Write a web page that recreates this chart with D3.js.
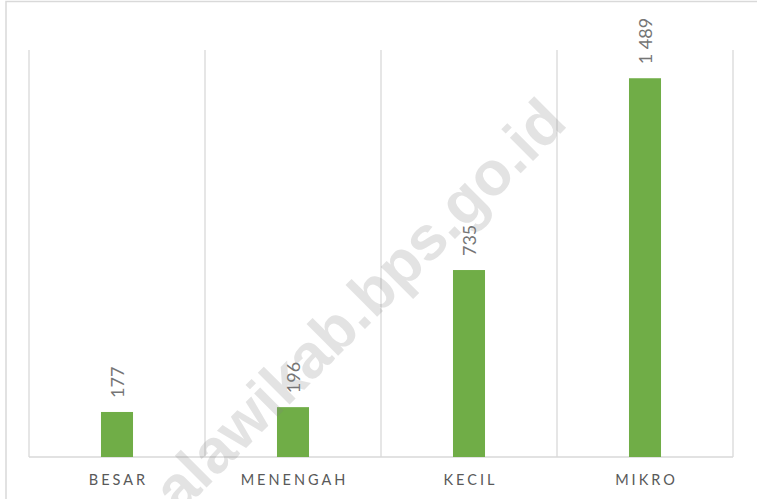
<!DOCTYPE html>
<html>
<head>
<meta charset="utf-8">
<script src="https://cdn.jsdelivr.net/npm/d3@7"></script>
<style>
  html, body { margin: 0; padding: 0; background: #fff; }
  svg { display: block; }
</style>
</head>
<body>
<div id="chart"></div>
<script>
// Data
const categories = ['BESAR', 'MENENGAH', 'KECIL', 'MIKRO'];
const values = [177, 196, 735, 1489];
const valueLabels = ['177', '196', '735', '1 489'];
const yMax = 1600;

const W = 757, H = 499;
const margin = { left: 29, right: 24, top: 50, bottom: 42 };
const barColor = '#70ad47';
const gridColor = '#d9d9d9';
const textColor = '#595959';

const svg = d3.select('#chart').append('svg')
  .attr('width', W).attr('height', H);

// outer frame (right and bottom edges fall outside the picture)
svg.append('rect')
  .attr('x', 6).attr('y', 1.5)
  .attr('width', 780).attr('height', 520)
  .attr('fill', 'none')
  .attr('stroke', gridColor)
  .attr('stroke-width', 1.5);

const x = d3.scaleBand()
  .domain(categories)
  .range([margin.left, W - margin.right])
  .padding(0);

const y = d3.scaleLinear()
  .domain([0, yMax])
  .range([H - margin.bottom, margin.top]);

const plot = svg.append('g');

// vertical separators between categories
const bounds = categories.map(c => x(c)).concat([x(categories[categories.length - 1]) + x.bandwidth()]);
plot.selectAll('line.sep')
  .data(bounds)
  .join('line')
  .attr('class', 'sep')
  .attr('x1', d => d).attr('x2', d => d)
  .attr('y1', y(yMax)).attr('y2', y(0))
  .attr('stroke', gridColor)
  .attr('stroke-width', 1.3);

// baseline
plot.append('line')
  .attr('x1', x.range()[0]).attr('x2', x.range()[1])
  .attr('y1', y(0)).attr('y2', y(0))
  .attr('stroke', gridColor)
  .attr('stroke-width', 1.3);

const barW = x.bandwidth() * 0.182;

plot.selectAll('rect.bar')
  .data(values)
  .join('rect')
  .attr('class', 'bar')
  .attr('x', (d, i) => x(categories[i]) + (x.bandwidth() - barW) / 2)
  .attr('y', d => y(d))
  .attr('width', barW)
  .attr('height', d => y(0) - y(d))
  .attr('fill', barColor);

// value labels, rotated
plot.selectAll('text.val')
  .data(values)
  .join('text')
  .attr('class', 'val')
  .attr('transform', (d, i) => {
    const cx = x(categories[i]) + x.bandwidth() / 2;
    return `translate(${cx + 6.5},${y(d) - 14}) rotate(-90)`;
  })
  .attr('text-anchor', 'start')
  .attr('font-family', 'Lato, "Open Sans", sans-serif')
  .attr('font-size', 18)
  .attr('fill', '#757575')
  .text((d, i) => valueLabels[i]);

// category labels
plot.selectAll('text.cat')
  .data(categories)
  .join('text')
  .attr('class', 'cat')
  .attr('x', d => x(d) + x.bandwidth() / 2 + 1.5)
  .attr('y', y(0) + 28)
  .attr('text-anchor', 'middle')
  .attr('font-family', 'Lato, "Open Sans", sans-serif')
  .attr('font-size', 14.5)
  .attr('letter-spacing', 3)
  .attr('fill', textColor)
  .text(d => d);

// watermark
svg.append('text')
  .attr('transform', 'translate(569,125) rotate(-45)')
  .attr('text-anchor', 'end')
  .attr('font-family', '"Liberation Sans", Arial, sans-serif')
  .attr('font-weight', 'bold')
  .attr('font-size', 62)
  .attr('fill', 'rgba(128,128,128,0.22)')
  .text('alawikab.bps.go.id');
</script>
</body>
</html>
